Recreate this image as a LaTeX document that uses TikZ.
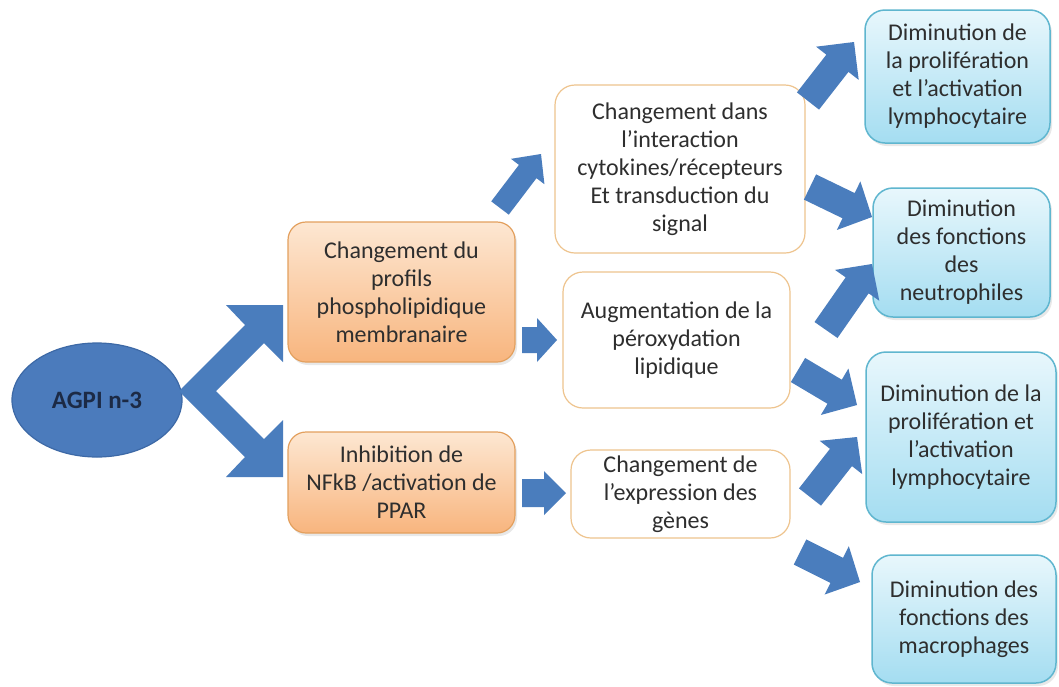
\documentclass[tikz,border=0pt]{standalone}
\usepackage{fontspec}
\setmainfont{Carlito}
\usetikzlibrary{calc,shadows,shapes.geometric}
\definecolor{arrblue}{HTML}{4A7DBD}
\definecolor{ellfill}{HTML}{4B7BBC}
\definecolor{elledge}{HTML}{3D69A6}
\definecolor{navy}{HTML}{1C2A45}
\definecolor{textgray}{HTML}{2E2E2E}
\definecolor{orangetop}{HTML}{FDE7D2}
\definecolor{orangebot}{HTML}{F8B57E}
\definecolor{orangeedge}{HTML}{E3A05E}
\definecolor{wedge}{HTML}{EEC48E}
\definecolor{btop}{HTML}{E8F7FC}
\definecolor{bbot}{HTML}{A4DDF1}
\definecolor{bedge}{HTML}{5FB6CF}
% block arrow: tail, tip, half shaft, half head, head length
\newcommand\blkarrow[5]{%
  \coordinate (ba-c) at ($#2!#5!#1$);
  \fill[arrblue] ($#1!#3!90:#2$) -- ($(ba-c)!#3!90:#2$) -- ($(ba-c)!#4!90:#2$)
    -- #2 -- ($(ba-c)!#4!-90:#2$) -- ($(ba-c)!#3!-90:#2$) -- ($#1!#3!-90:#2$) -- cycle;
}
\begin{document}
\begin{tikzpicture}[x=1pt,y=-1pt,
  txt/.style={font=\fontsize{24}{28}\selectfont, text=textgray, align=center, inner sep=0pt},
  obox/.style={txt, rounded corners=18pt, draw=orangeedge, line width=1.2pt,
    top color=orangetop, bottom color=orangebot,
    drop shadow={opacity=0.18, shadow xshift=2pt, shadow yshift=-3pt}},
  wbox/.style={txt, rounded corners=20pt, draw=wedge, line width=1.2pt, fill=white},
  bbox/.style={txt, rounded corners=20pt, draw=bedge, line width=1.5pt,
    top color=btop, bottom color=bbot,
    drop shadow={opacity=0.18, shadow xshift=2pt, shadow yshift=-3pt}},
]
\useasboundingbox (0,0) rectangle (1059,686);
\fill[white] (0,0) rectangle (1059,686);

% AGPI ellipse
\node[ellipse, fill=ellfill, draw=elledge, line width=1.2pt,
  minimum width=170pt, minimum height=114pt, inner sep=0pt,
  font=\fontsize{25}{28}\selectfont\bfseries, text=navy] (agpi) at (97,400) {AGPI n-3};

% orange boxes
\node[obox, minimum width=227pt, minimum height=140pt] (o1) at (401.5,292)
  {Changement du\\profils\\phospholipidique\\membranaire};
\node[obox, minimum width=227pt, minimum height=101pt] (o2) at (401.5,482.5)
  {Inhibition de\\NFkB /activation de\\PPAR};

% white boxes
\node[wbox, minimum width=250pt, minimum height=168pt] (w1) at (680,169)
  {Changement dans\\l’interaction\\cytokines/récepteurs\\Et transduction du\\signal};
\node[wbox, minimum width=227pt, minimum height=136pt] (w2) at (676.5,340)
  {Augmentation de la\\péroxydation\\lipidique};
\node[wbox, minimum width=219pt, minimum height=88pt] (w3) at (680.5,494)
  {Changement de\\l’expression des\\gènes};

% blue boxes
\node[bbox, minimum width=185pt, minimum height=133pt] (b1) at (957.5,76.5)
  {Diminution de\\la prolifération\\et l’activation\\lymphocytaire};
\node[bbox, minimum width=177pt, minimum height=129pt] (b2) at (961.5,252.5)
  {Diminution\\des fonctions\\des\\neutrophiles};
\node[bbox, minimum width=190pt, minimum height=170pt] (b3) at (961,437)
  {Diminution de la\\prolifération et\\l’activation\\lymphocytaire};
\node[bbox, minimum width=184pt, minimum height=128pt] (b4) at (964,619)
  {Diminution des\\fonctions des\\macrophages};

% V-shaped double arrow from the ellipse
\fill[arrblue] (179,391) -- (245,325) -- (226,305) -- (283,305) -- (283,362)
  -- (264,343) -- (216,391) -- (264,439) -- (283,420) -- (283,477)
  -- (226,477) -- (245,457) -- cycle;

% named ends of the block arrows
\coordinate (a1t) at (500,208);  \coordinate (a1h) at (541,154);
\coordinate (a2t) at (522,340);  \coordinate (a2h) at (557,340);
\coordinate (a3t) at (522,493);  \coordinate (a3h) at (566,493);
\coordinate (a4t) at (808,101);  \coordinate (a4h) at (854,42);
\coordinate (a5t) at (810,187);  \coordinate (a5h) at (872,217);
\coordinate (a6t) at (826,330);  \coordinate (a6h) at (872,264);
\coordinate (a7t) at (798,370);  \coordinate (a7h) at (857,405);
\coordinate (a8t) at (810,497);  \coordinate (a8h) at (857,437);
\coordinate (a9t) at (800,552);  \coordinate (a9h) at (860,582);

\blkarrow{(a1t)}{(a1h)}{11pt}{21pt}{22pt}
\blkarrow{(a2t)}{(a2h)}{13pt}{22pt}{20pt}
\blkarrow{(a3t)}{(a3h)}{14pt}{22pt}{22pt}
\blkarrow{(a4t)}{(a4h)}{14pt}{27pt}{27pt}
\blkarrow{(a5t)}{(a5h)}{14pt}{27pt}{26pt}
\blkarrow{(a6t)}{(a6h)}{14pt}{27pt}{26pt}
\blkarrow{(a7t)}{(a7h)}{14pt}{27pt}{26pt}
\blkarrow{(a8t)}{(a8h)}{14pt}{27pt}{26pt}
\blkarrow{(a9t)}{(a9h)}{14pt}{27pt}{26pt}
\end{tikzpicture}
\end{document}
